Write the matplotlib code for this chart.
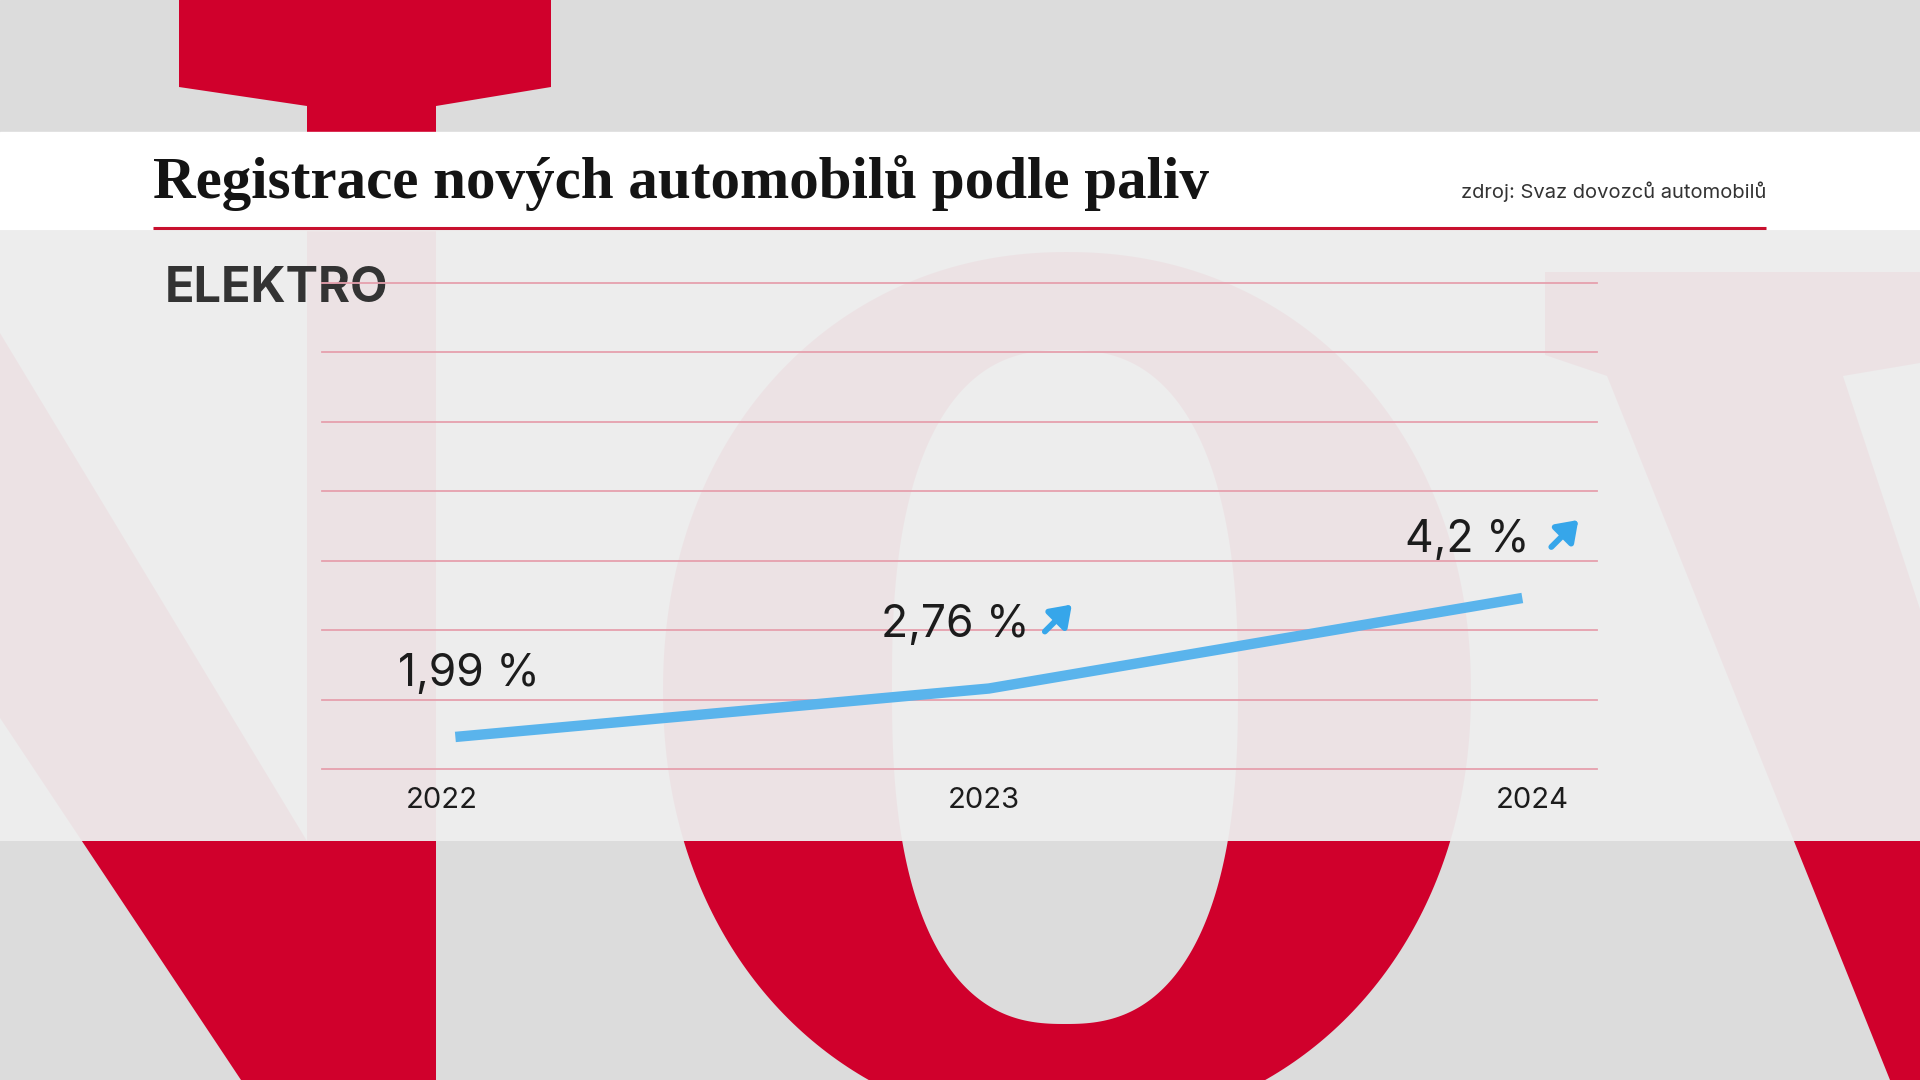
import numpy as np
import matplotlib
matplotlib.use("Agg")
from matplotlib import pyplot as plt
from matplotlib.patches import Rectangle, Polygon, PathPatch
from matplotlib.path import Path
from matplotlib import transforms

# data
years = ["2022", "2023", "2024"]
share = [1.99, 2.76, 4.2]
share_labels = ["1,99 %", "2,76 %", "4,2 %"]
rising = [False, True, True]

title = "Registrace nových automobilů podle paliv"
source = "zdroj: Svaz dovozců automobilů"
category = "ELEKTRO"

RED = "#d0002c"
GREY = "#dcdcdc"
BLUE = "#5ab4ec"
ARROW = "#36a6ea"
TXT = "#1c1c1c"

plt.rcParams["font.family"] = ["Inter", "DejaVu Sans"]

fig = plt.figure(figsize=(19.2, 10.8), dpi=100)

# background in pixel coordinates
bg = fig.add_axes([0, 0, 1, 1], zorder=0)
bg.set_xlim(0, 1920)
bg.set_ylim(1080, 0)
bg.axis("off")

bg.add_patch(Rectangle((0, 0), 1920, 1080, color=GREY, zorder=0))

# big red "NOVA" letters
bg.add_patch(Polygon([(179, 0), (551, 0), (551, 87), (436, 106), (436, 1080),
                      (307, 1080), (307, 106), (179, 87)], closed=True, color=RED, lw=0, zorder=1))
bg.add_patch(Polygon([(0, 333), (307, 841), (307, 1080), (241, 1080), (0, 718)],
                     closed=True, color=RED, lw=0, zorder=1))


def superellipse(cx, cy, a, b, n, reverse=False):
    t = np.linspace(0, 2 * np.pi, 400)
    c, s = np.cos(t), np.sin(t)
    x = cx + a * np.sign(c) * np.abs(c) ** (2 / n)
    y = cy + b * np.sign(s) * np.abs(s) ** (2 / n)
    pts = np.column_stack([x, y])
    return pts[::-1] if reverse else pts


outer = superellipse(1067, 691, 404, 439, 2.1)
inner = superellipse(1065, 687, 173, 337, 2.5, reverse=True)
verts = np.vstack([outer, outer[:1], inner, inner[:1]])
codes = ([Path.MOVETO] + [Path.LINETO] * (len(outer) - 1) + [Path.CLOSEPOLY]
         + [Path.MOVETO] + [Path.LINETO] * (len(inner) - 1) + [Path.CLOSEPOLY])
bg.add_patch(PathPatch(Path(verts, codes), color=RED, lw=0, zorder=1))

bg.add_patch(Polygon([(1545, 272), (1920, 272), (1920, 363), (1843, 376), (1920, 609),
                      (1920, 1080), (1890, 1080), (1607, 376), (1545, 355)],
                     closed=True, color=RED, lw=0, zorder=1))

# title band and translucent panel
bg.add_patch(Rectangle((0, 132), 1920, 98, color="white", zorder=2))
bg.add_patch(Rectangle((0, 230), 1920, 611, color="#eeeeee", alpha=0.955, lw=0, zorder=2))
bg.plot([153, 1766], [228, 228], color="#c8102e", lw=2.2, zorder=3, solid_capstyle="butt")

bg.text(153, 198, title, ha="left", va="baseline", fontsize=42.5, fontweight="bold",
        family=["Liberation Serif", "DejaVu Serif"], color="#141414", zorder=4)
bg.text(1766, 198, source, ha="right", va="baseline", fontsize=14.5, color="#333333", zorder=4)
bg.text(165, 302, category, ha="left", va="baseline", fontsize=35, fontweight="bold",
        color="#333333", zorder=4)

# chart
ax = fig.add_axes([322 / 1920, 1 - 769 / 1080, 1275 / 1920, 486 / 1080], zorder=1)
ax.set_facecolor("none")
x = np.arange(len(years))
ax.set_xlim(-0.25, 2.14)
ax.set_ylim(1.48, 9.21)
ax.set_yticks(np.linspace(1.48, 9.21, 8))
ax.set_yticklabels([])
ax.grid(axis="y", color="#e6a0ad", lw=1.3)
for gl in ax.get_ygridlines():
    gl.set_clip_on(False)
for sp in ax.spines.values():
    sp.set_visible(False)
ax.set_xticks(x)
ax.set_xticklabels(years, fontsize=21, color=TXT)
ax.tick_params(axis="both", length=0)
ax.tick_params(axis="x", pad=13)
for lbl, shift in zip(ax.get_xticklabels(), [-14, -5, 10]):
    lbl.set_transform(lbl.get_transform() + transforms.Affine2D().translate(shift, 0))

ax.plot(x, share, color=BLUE, lw=7.5, solid_capstyle="butt", solid_joinstyle="round", zorder=3)

text_off = [(14, 63), (-34, 64), (-55, 58)]
arrow_off = [(0, 0), (69, 70), (42, 64)]
for i, (v, lbl) in enumerate(zip(share, share_labels)):
    ax.annotate(lbl, (x[i], v), xytext=text_off[i], textcoords="offset pixels",
                ha="center", va="center", fontsize=32, color=TXT, zorder=4)
    if rising[i]:
        dx, dy = arrow_off[i]
        tip = transforms.offset_copy(ax.transData, fig=fig, x=dx + 14, y=dy + 14, units="dots")
        ax.annotate("", xy=(x[i], v), xycoords=tip, xytext=(-27, -27), textcoords="offset pixels",
                    arrowprops=dict(arrowstyle="-|>,head_length=0.6,head_width=0.42",
                                    lw=4.2, color=ARROW, shrinkA=0, shrinkB=0, mutation_scale=20))

fig.savefig("out.png", dpi=100)
